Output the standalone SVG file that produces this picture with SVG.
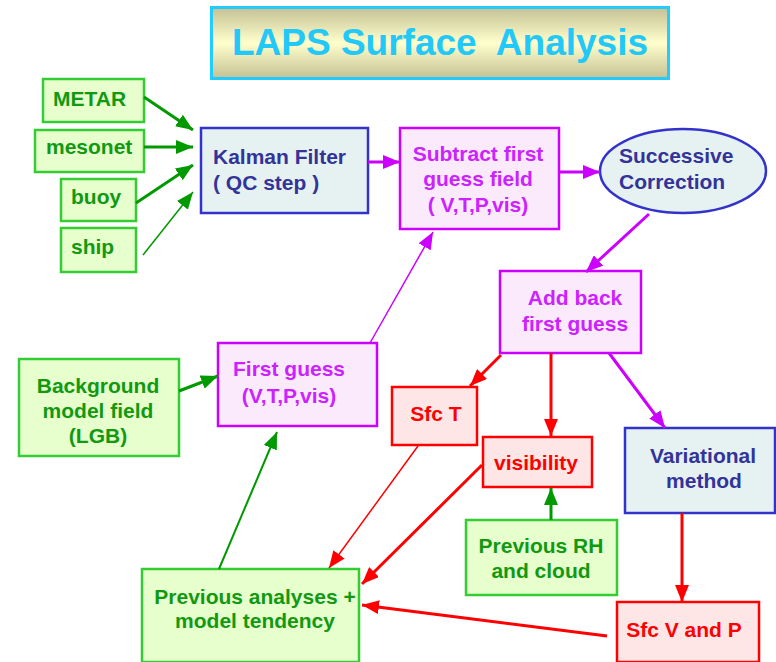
<svg xmlns="http://www.w3.org/2000/svg" width="776" height="662" viewBox="0 0 776 662">
<defs>
<linearGradient id="tg" x1="0" y1="0" x2="0" y2="1">
<stop offset="0" stop-color="#c4c094"/>
<stop offset="0.5" stop-color="#ffffcc"/>
<stop offset="1" stop-color="#c4c094"/>
</linearGradient>
<marker id="ag" markerUnits="userSpaceOnUse" markerWidth="18" markerHeight="14" refX="17" refY="7" orient="auto"><path d="M0,0 L17,7 L0,14 Z" fill="#009900"/></marker>
<marker id="am" markerUnits="userSpaceOnUse" markerWidth="18" markerHeight="14" refX="17" refY="7" orient="auto"><path d="M0,0 L17,7 L0,14 Z" fill="#cc00ff"/></marker>
<marker id="ar" markerUnits="userSpaceOnUse" markerWidth="18" markerHeight="14" refX="17" refY="7" orient="auto"><path d="M0,0 L17,7 L0,14 Z" fill="#ff0000"/></marker>
</defs>
<style>
text{font-family:"Liberation Sans",Arial,sans-serif;font-weight:bold;font-size:21px}
.g rect{fill:#e6ffcc;stroke:#33cc33;stroke-width:2.5}
.g text{fill:#119911}
.b rect,.b ellipse{fill:#e6f2f2;stroke:#3333cc;stroke-width:2.5}
.b text{fill:#333399}
.m rect{fill:#fbeafb;stroke:#cc00ff;stroke-width:2.5}
.m text{fill:#cc22ff}
.r rect{fill:#ffe6e6;stroke:#ff0000;stroke-width:2.5}
.r text{fill:#ff0000}
.c text{text-anchor:middle}
#edges path{fill:none}
.eg{stroke:#009900}
.em{stroke:#cc00ff}
.er{stroke:#ff0000}
</style>
<rect width="776" height="662" fill="#ffffff"/>
<g id="title">
<rect x="211.5" y="7.5" width="457" height="71" fill="url(#tg)" stroke="#22ccff" stroke-width="3"/>
<text x="440" y="55" text-anchor="middle" style="font-size:37px;white-space:pre" fill="#22c8f8">LAPS Surface  Analysis</text>
</g>
<g id="metar" class="g"><rect x="43" y="79" width="101" height="43"/><text x="53" y="106">METAR</text></g>
<g id="mesonet" class="g"><rect x="35" y="130" width="109" height="42"/><text x="46" y="154">mesonet</text></g>
<g id="buoy" class="g"><rect x="61" y="179" width="75" height="42"/><text x="71" y="204">buoy</text></g>
<g id="ship" class="g"><rect x="61" y="228" width="75" height="44"/><text x="71" y="254">ship</text></g>
<g id="kalman" class="b"><rect x="201" y="128" width="167" height="85"/><text x="213" y="164">Kalman Filter</text><text x="213" y="190">( QC step )</text></g>
<g id="subtract" class="m c"><rect x="400" y="128" width="159" height="101"/><text x="478" y="161">Subtract first</text><text x="478" y="186">guess field</text><text x="478" y="212">( V,T,P,vis)</text></g>
<g id="successive" class="b"><ellipse cx="683" cy="171" rx="83" ry="42"/><text x="619" y="163">Successive</text><text x="619" y="189">Correction</text></g>
<g id="addback" class="m c"><rect x="500" y="271" width="141" height="82"/><text x="575" y="305">Add back</text><text x="575" y="331">first guess</text></g>
<g id="background" class="g c"><rect x="19" y="359" width="160" height="97"/><text x="98" y="393">Background</text><text x="98" y="418">model field</text><text x="98" y="443">(LGB)</text></g>
<g id="firstguess" class="m c"><rect x="218" y="343" width="159" height="83"/><text x="289" y="376">First guess</text><text x="289" y="403">(V,T,P,vis)</text></g>
<g id="sfct" class="r c"><rect x="392" y="387" width="85" height="58"/><text x="436" y="421">Sfc T</text></g>
<g id="visibility" class="r c"><rect x="483" y="437" width="109" height="50"/><text x="536" y="470">visibility</text></g>
<g id="variational" class="b c"><rect x="625" y="428" width="150" height="85"/><text x="703" y="463">Variational</text><text x="704" y="488">method</text></g>
<g id="prevrh" class="g c"><rect x="466" y="520" width="151" height="75"/><text x="541" y="553">Previous RH</text><text x="541" y="578">and cloud</text></g>
<g id="prevanalyses" class="g c"><rect x="142" y="569" width="217" height="93"/><text x="255" y="604">Previous analyses +</text><text x="255" y="628">model tendency</text></g>
<g id="sfcvp" class="r c"><rect x="617" y="602" width="142" height="60"/><text x="684" y="637">Sfc V and P</text></g>
<g id="edges">
<path class="eg" stroke-width="3" d="M144,97 L193,130" marker-end="url(#ag)"/>
<path class="eg" stroke-width="3" d="M144,147 L193,147" marker-end="url(#ag)"/>
<path class="eg" stroke-width="3" d="M136,203 L193,165" marker-end="url(#ag)"/>
<path class="eg" stroke-width="1.5" d="M143,255 L193,192" marker-end="url(#ag)"/>
<path class="em" stroke-width="3" d="M368,162 L400,162" marker-end="url(#am)"/>
<path class="em" stroke-width="3" d="M559,172 L600,172" marker-end="url(#am)"/>
<path class="em" stroke-width="3" d="M649,214 L586,272" marker-end="url(#am)"/>
<path class="em" stroke-width="1.5" d="M370,343 L433,232" marker-end="url(#am)"/>
<path class="eg" stroke-width="3" d="M179,391 L218,376" marker-end="url(#ag)"/>
<path class="eg" stroke-width="2" d="M219,569 L277,432" marker-end="url(#ag)"/>
<path class="er" stroke-width="3" d="M501,355 L470,386" marker-end="url(#ar)"/>
<path class="er" stroke-width="3" d="M551,353 L551,436" marker-end="url(#ar)"/>
<path class="em" stroke-width="3" d="M609,353 L665,428" marker-end="url(#am)"/>
<path class="eg" stroke-width="3" d="M551,520 L551,488" marker-end="url(#ag)"/>
<path class="er" stroke-width="3" d="M682,513 L682,602" marker-end="url(#ar)"/>
<path class="er" stroke-width="1.5" d="M418,446 L329,568" marker-end="url(#ar)"/>
<path class="er" stroke-width="3" d="M482,465 L362,584" marker-end="url(#ar)"/>
<path class="er" stroke-width="3" d="M607,636 L362,605" marker-end="url(#ar)"/>
</g>
</svg>
